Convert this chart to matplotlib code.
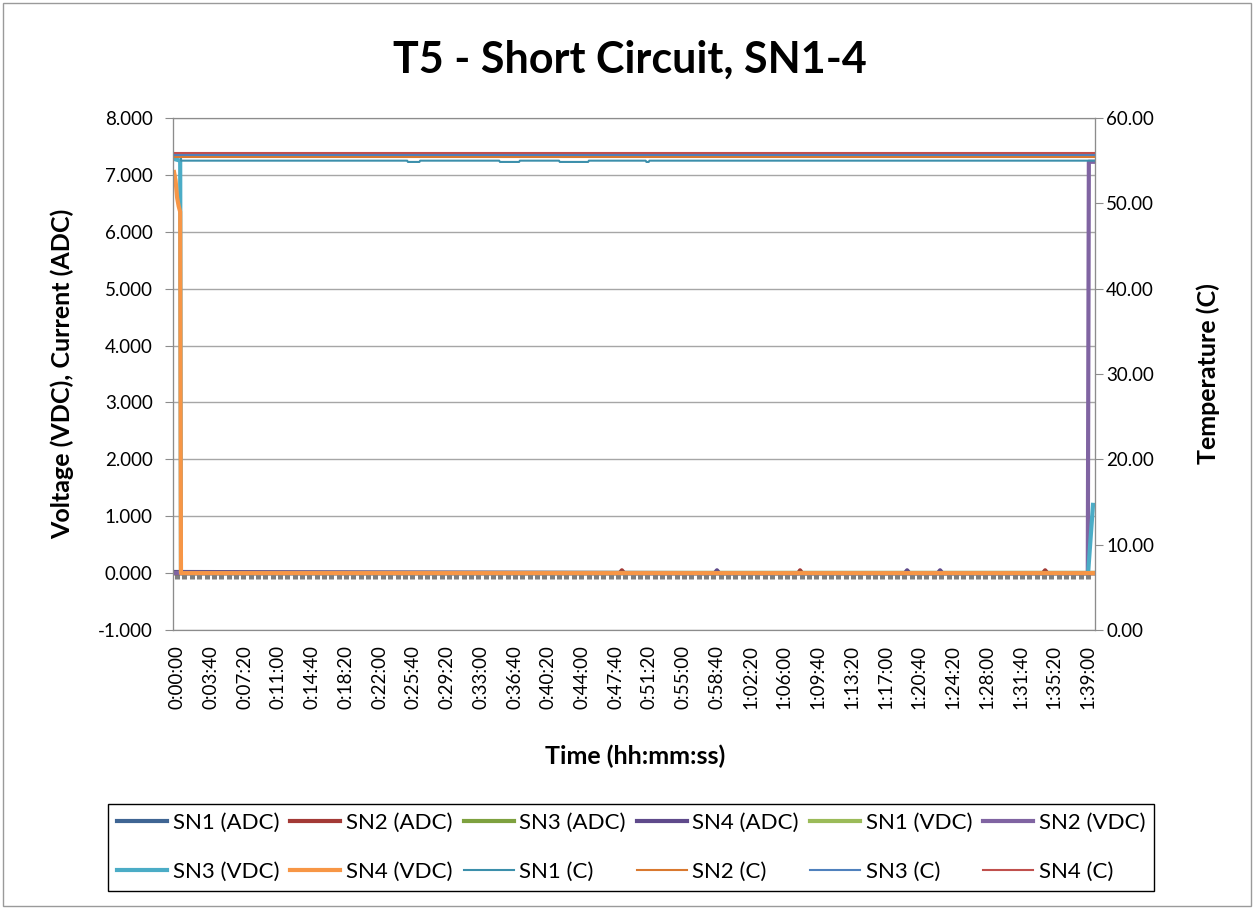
import numpy as np
import matplotlib
matplotlib.use("Agg")
import matplotlib.pyplot as plt
from matplotlib.patches import Rectangle

plt.rcParams['font.family'] = ['Lato', 'DejaVu Sans']

##################################################
# Data (time in seconds from start of test)
##################################################
# currents, mostly flat at zero
time_adc = [-20, 5985]
sn1_adc = [0.0, 0.0]
sn3_adc = [0.0, 0.0]
time_sn2_adc = [-20, 2885, 2900, 2915, 4050, 4062, 4075, 5645, 5660, 5675, 5985]
sn2_adc = [0.0, 0.0, 0.05, 0.0, 0.0, 0.05, 0.0, 0.0, 0.05, 0.0, 0.0]
time_sn4_adc = [-20, 3505, 3520, 3535, 4745, 4760, 4775, 4960, 4975, 4990, 5985]
sn4_adc = [0.02, 0.0, 0.05, 0.0, 0.0, 0.05, 0.0, 0.0, 0.05, 0.0, 0.0]

# voltages
time_sn1_vdc = [-20, 5985]
sn1_vdc = [0.0, 0.0]
time_sn2_vdc = [-20, 5938, 5945, 5985]
sn2_vdc = [0.0, 0.0, 7.23, 7.23]
time_sn3_vdc = [-20, 20, 25, 5940, 5972]
sn3_vdc = [7.28, 7.25, 0.0, 0.0, 1.2]
time_sn4_vdc = [-20, -10, 0, 10, 20, 25, 5985]
sn4_vdc = [7.05, 6.9, 6.6, 6.45, 6.35, 0.0, 0.0]

# temperatures (secondary axis)
time_sn1_c = [-20, 24, 26, 1500, 1505, 1580, 1585, 2100, 2105, 2230, 2235,
              2490, 2495, 2680, 2685, 3055, 3060, 3075, 3080, 5985]
sn1_c = [55.63, 55.63, 55.0, 55.0, 54.85, 54.85, 55.0, 55.0, 54.85, 54.85, 55.0,
         55.0, 54.85, 54.85, 55.0, 55.0, 54.85, 54.85, 55.0, 55.0]
time_c = [-20, 5985]
sn2_c = [55.47, 55.47]
sn3_c = [55.70, 55.70]
sn4_c = [55.93, 55.93]

tick_times = np.arange(0, 5941, 220)

def hms(s):
    return "%d:%02d:%02d" % (s // 3600, (s % 3600) // 60, s % 60)

##################################################
# Plot
##################################################
fig = plt.figure(figsize=(12.55, 9.09), dpi=100)
fig.patch.set_facecolor('white')

ax = fig.add_axes([0.1382, 0.3069, 0.7343, 0.5633])
axr = ax.twinx()
axt = ax.twiny()
axt.set_zorder(0)
ax.set_zorder(1)
axr.set_zorder(2)
ax.patch.set_visible(False)

thick = 3.0
thin = 1.5
handles = []
handles += ax.plot(time_adc, sn1_adc, color='#3f6593', lw=thick, label='SN1 (ADC)')
handles += ax.plot(time_sn2_adc, sn2_adc, color='#a33a36', lw=thick, label='SN2 (ADC)')
handles += ax.plot(time_adc, sn3_adc, color='#7ea13f', lw=thick, label='SN3 (ADC)')
handles += ax.plot(time_sn4_adc, sn4_adc, color='#5f4a8b', lw=thick, label='SN4 (ADC)')
handles += ax.plot(time_sn1_vdc, sn1_vdc, color='#9bbb59', lw=thick, label='SN1 (VDC)')
handles += ax.plot(time_sn2_vdc, sn2_vdc, color='#8064a2', lw=thick, label='SN2 (VDC)')
handles += ax.plot(time_sn3_vdc, sn3_vdc, color='#4bacc6', lw=thick, label='SN3 (VDC)')
handles += ax.plot(time_sn4_vdc, sn4_vdc, color='#f79646', lw=thick, label='SN4 (VDC)')
handles += axr.plot(time_sn1_c, sn1_c, color='#3c8fab', lw=thin, label='SN1 (C)')
handles += axr.plot(time_c, sn2_c, color='#d9792f', lw=thin, label='SN2 (C)')
handles += axr.plot(time_c, sn3_c, color='#4f81bd', lw=thin, label='SN3 (C)')
handles += axr.plot(time_c, sn4_c, color='#c0504d', lw=thin, label='SN4 (C)')

grey = '#8c8c8c'
ax.set_xlim(-24, 5985)
ax.set_ylim(-1, 8)
axr.set_ylim(0, 60)
ax.set_yticks(np.arange(-1, 9, 1))
ax.set_yticklabels(["%.3f" % v for v in np.arange(-1, 9, 1)])
axr.set_yticks(np.arange(0, 61, 10))
axr.set_yticklabels(["%.2f" % v for v in np.arange(0, 61, 10)])
ax.set_xticks(tick_times)
ax.set_xticklabels([hms(int(s)) for s in tick_times], rotation=90)

ax.yaxis.grid(True, color='#a6a6a6', lw=1)
ax.tick_params(axis='y', length=6, color=grey, labelsize=13.5, pad=9)
axr.tick_params(axis='y', length=6, color=grey, labelsize=13.5, pad=2)
ax.tick_params(axis='x', length=0, labelsize=13.5, pad=11)
for a in (ax, axr, axt):
    for sp in a.spines.values():
        sp.set_color(grey)

# category axis tick marks at the zero line
axt.set_xlim(ax.get_xlim())
axt.spines['bottom'].set_position(('data', 0))
axt.spines['bottom'].set_visible(False)
axt.spines['top'].set_visible(False)
axt.xaxis.set_ticks_position('bottom')
axt.set_xticks(np.linspace(0, 5940, 125))
axt.tick_params(axis='x', direction='out', length=4.5, width=3.6, color='#7f7f7f',
                labelbottom=False, labeltop=False, pad=0)
axt.yaxis.set_visible(False)

fig.text(630 / 1255, 1 - 60 / 909, 'T5 - Short Circuit, SN1-4', ha='center', va='center',
         fontsize=31, fontweight='bold')
fig.text(62 / 1255, 1 - 374 / 909, 'Voltage (VDC), Current (ADC)', rotation=90,
         ha='center', va='center', fontsize=18, fontweight='bold')
fig.text(1208 / 1255, 1 - 374 / 909, 'Temperature (C)', rotation=90,
         ha='center', va='center', fontsize=18, fontweight='bold')
fig.text(635 / 1255, 1 - 756 / 909, 'Time (hh:mm:ss)', ha='center', va='center',
         fontsize=18, fontweight='bold')

# legend filled row by row
order = []
for i in range(6):
    order += [i, i + 6]
leg = fig.legend([handles[i] for i in order], [handles[i].get_label() for i in order],
                 ncol=6, loc='center', bbox_to_anchor=(0.503, 0.0675), fontsize=16,
                 frameon=True, fancybox=False, framealpha=1, edgecolor='black',
                 handlelength=2.25, handletextpad=0.25, columnspacing=0.5,
                 labelspacing=1.3, borderpad=0.4)
leg.get_frame().set_linewidth(1)

fig.patches.append(Rectangle((0.002, 0.003), 0.995, 0.994, transform=fig.transFigure,
                             fill=False, ec='#9a9a9a', lw=1))

fig.savefig('out.png', dpi=100)
